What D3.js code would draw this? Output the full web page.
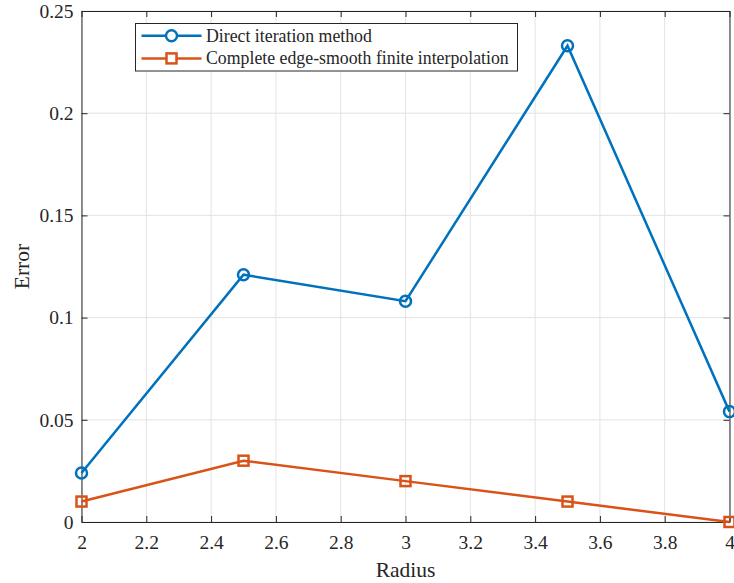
<!DOCTYPE html>
<html>
<head>
<meta charset="utf-8">
<script src="https://cdn.jsdelivr.net/npm/d3@7"></script>
<style>
  body { margin: 0; background: #fff; }
</style>
</head>
<body>
<svg id="chart" width="734" height="583"></svg>
<script>
const radius = [2, 2.5, 3, 3.5, 4]
const directIteration = [0.024, 0.121, 0.108, 0.233, 0.054]
const edgeSmooth = [0.010, 0.030, 0.020, 0.010, 0.000]
const xTicks = [2, 2.2, 2.4, 2.6, 2.8, 3, 3.2, 3.4, 3.6, 3.8, 4]
const yTicks = [0, 0.05, 0.1, 0.15, 0.2, 0.25]
const seriesNames = ['Direct iteration method', 'Complete edge-smooth finite interpolation']

const serif = '"Liberation Serif", "Times New Roman", serif'
const margin = { left: 81.5, right: 4.5, top: 11, bottom: 61 }
const width = 734 - margin.left - margin.right
const height = 583 - margin.top - margin.bottom

const svg = d3.select('#chart')
const g = svg.append('g').attr('transform', `translate(${margin.left},${margin.top})`)

const x = d3.scaleLinear().domain([2, 4]).range([0, width])
const y = d3.scaleLinear().domain([0, 0.25]).range([height, 0])

// grid
g.append('g').selectAll('line').data(xTicks)
  .enter().append('line')
    .attr('x1', d => x(d)).attr('x2', d => x(d))
    .attr('y1', 0).attr('y2', height)
    .attr('stroke', '#e3e3e3').attr('stroke-width', 1)
g.append('g').selectAll('line').data(yTicks)
  .enter().append('line')
    .attr('x1', 0).attr('x2', width)
    .attr('y1', d => y(d)).attr('y2', d => y(d))
    .attr('stroke', '#e3e3e3').attr('stroke-width', 1)

// axes, ticks pointing inwards
const fmt = d => String(+d.toFixed(2))
const axisStyle = sel => {
  sel.attr('font-family', null).attr('font-size', null)
  sel.select('.domain').attr('stroke', '#262626').attr('stroke-width', 1)
  sel.selectAll('.tick line').attr('stroke', '#262626')
  sel.selectAll('.tick text')
    .style('font-family', serif).style('font-size', '19.5px').attr('fill', '#262626')
}
g.append('g')
  .attr('transform', `translate(0,${height})`)
  .call(d3.axisBottom(x).tickValues(xTicks).tickFormat(fmt).tickSizeInner(-6).tickSizeOuter(0).tickPadding(13))
  .call(axisStyle)
g.append('g')
  .call(d3.axisLeft(y).tickValues(yTicks).tickFormat(fmt).tickSizeInner(-6).tickSizeOuter(0).tickPadding(8))
  .call(axisStyle)
g.append('g')
  .call(d3.axisTop(x).tickValues(xTicks).tickFormat('').tickSizeInner(-6).tickSizeOuter(0))
  .call(axisStyle)
g.append('g')
  .attr('transform', `translate(${width},0)`)
  .call(d3.axisRight(y).tickValues(yTicks).tickFormat('').tickSizeInner(-6).tickSizeOuter(0))
  .call(axisStyle)

// axis labels
g.append('text')
  .attr('x', width / 2).attr('y', height + 55)
  .attr('text-anchor', 'middle')
  .style('font-family', serif).style('font-size', '21.5px').attr('fill', '#262626')
  .text('Radius')
g.append('text')
  .attr('transform', `translate(${-52.5},${height / 2}) rotate(-90)`)
  .attr('text-anchor', 'middle')
  .style('font-family', serif).style('font-size', '21.5px').attr('fill', '#262626')
  .text('Error')

const line = d3.line().x(d => x(d[0])).y(d => y(d[1]))
const blue = '#0072bd', orange = '#d95319'

const blueData = radius.map((r, i) => [r, directIteration[i]])
const orangeData = radius.map((r, i) => [r, edgeSmooth[i]])

g.append('path').datum(blueData)
  .attr('d', line).attr('fill', 'none').attr('stroke', blue).attr('stroke-width', 2.5)
g.selectAll('circle.m').data(blueData)
  .enter().append('circle')
    .attr('class', 'm')
    .attr('cx', d => x(d[0])).attr('cy', d => y(d[1])).attr('r', 5.5)
    .attr('fill', 'none').attr('stroke', blue).attr('stroke-width', 2.5)

g.append('path').datum(orangeData)
  .attr('d', line).attr('fill', 'none').attr('stroke', orange).attr('stroke-width', 2.5)
g.selectAll('rect.m').data(orangeData)
  .enter().append('rect')
    .attr('class', 'm')
    .attr('x', d => x(d[0]) - 5).attr('y', d => y(d[1]) - 5)
    .attr('width', 10).attr('height', 10)
    .attr('fill', 'none').attr('stroke', orange).attr('stroke-width', 2.5)

// legend
const legend = svg.append('g').attr('transform', 'translate(135.5,23.5)')
legend.append('rect')
  .attr('width', 382).attr('height', 47.5)
  .attr('fill', '#fff').attr('stroke', '#262626').attr('stroke-width', 1)
const items = legend.selectAll('g.item').data(seriesNames)
  .enter().append('g')
    .attr('class', 'item')
    .attr('transform', (d, i) => `translate(0,${12.3 + i * 22.6})`)
items.append('line')
  .attr('x1', 6).attr('x2', 66)
  .attr('stroke', (d, i) => i ? orange : blue).attr('stroke-width', 2.5)
items.filter((d, i) => i === 0).append('circle')
  .attr('cx', 36).attr('r', 5.5)
  .attr('fill', '#fff').attr('stroke', blue).attr('stroke-width', 2.5)
items.filter((d, i) => i === 1).append('rect')
  .attr('x', 31).attr('y', -5).attr('width', 10).attr('height', 10)
  .attr('fill', '#fff').attr('stroke', orange).attr('stroke-width', 2.5)
items.append('text')
  .attr('x', 70.5).attr('dy', '0.33em')
  .style('font-family', serif).style('font-size', '17.8px').attr('fill', '#262626')
  .text(d => d)
</script>
</body>
</html>
